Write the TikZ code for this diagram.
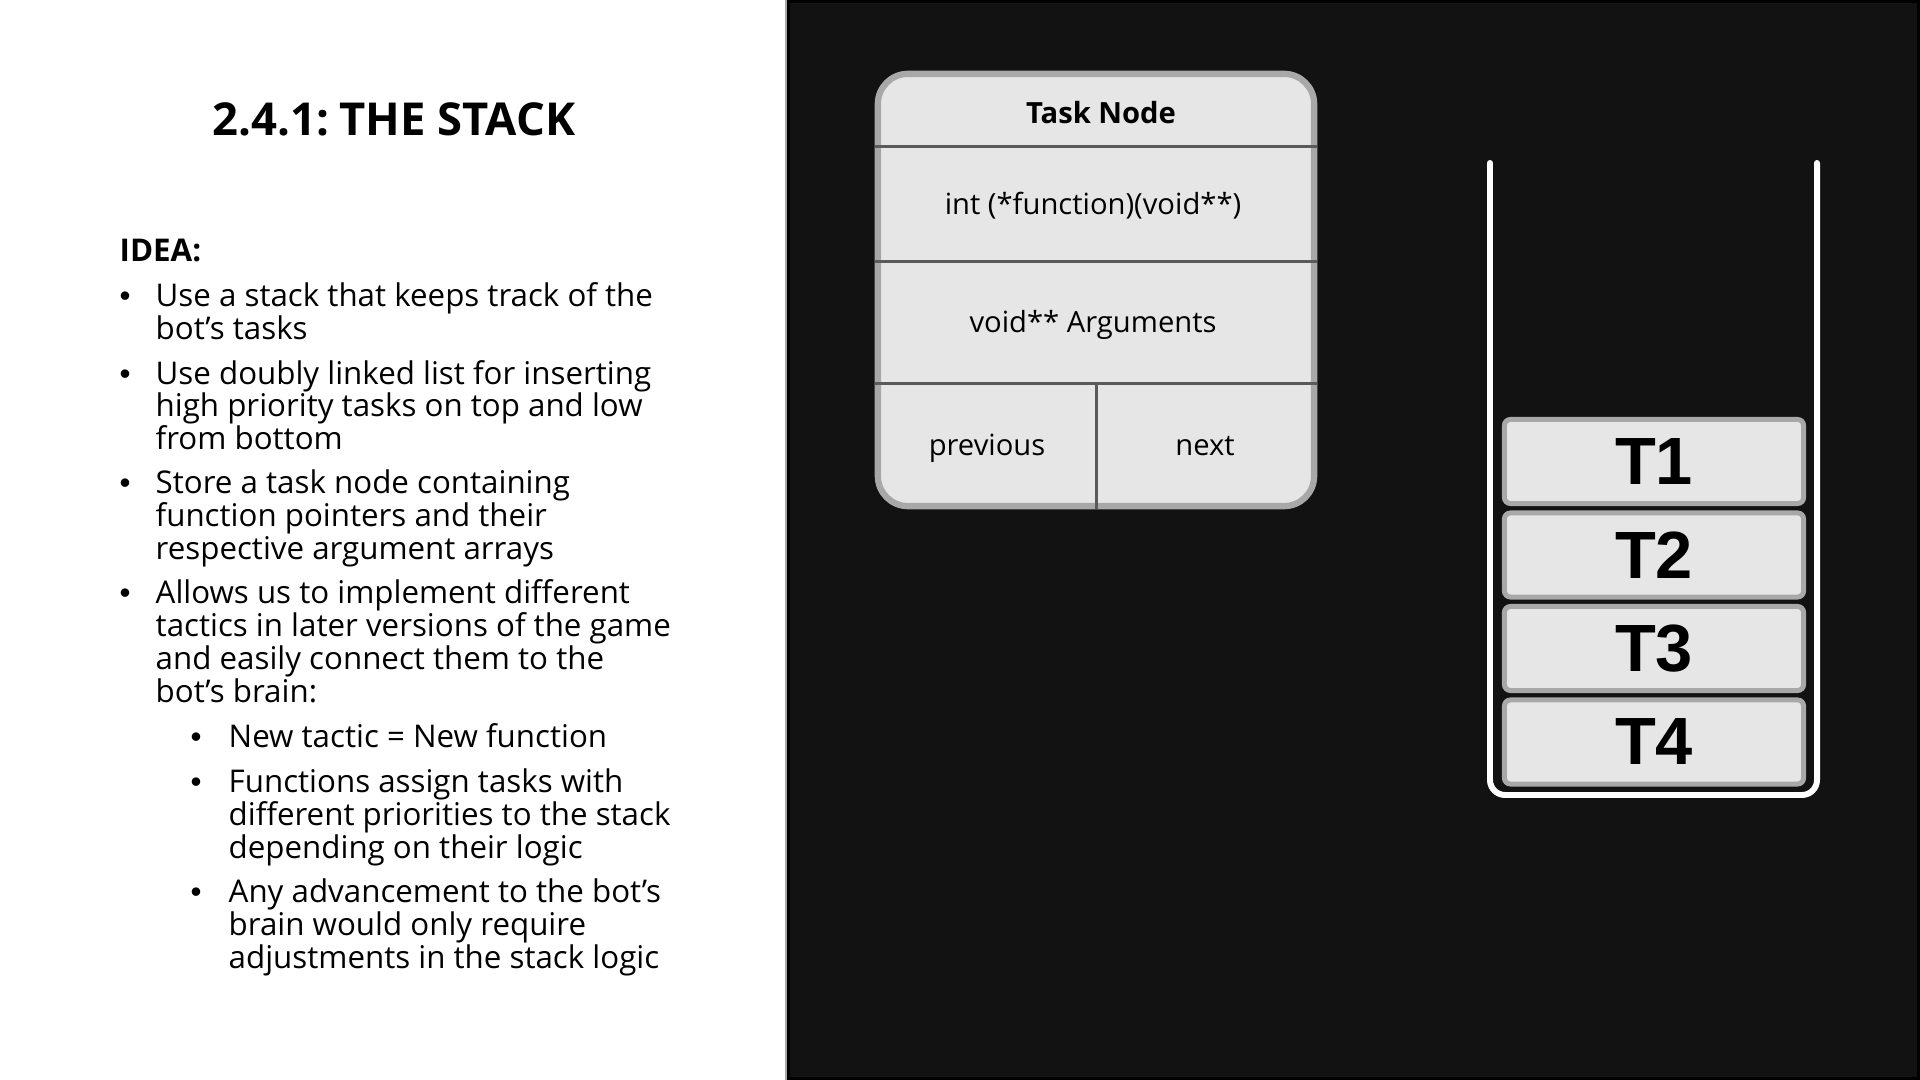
\documentclass[tikz,border=0pt]{standalone}
\usepackage{fontspec}
\setmainfont{Open Sans}
\newfontfamily\labelfont{Liberation Sans}
\definecolor{panelbg}{HTML}{121212}
\definecolor{cellfill}{HTML}{E6E6E6}
\definecolor{cellrim}{HTML}{A8A8A8}
\definecolor{rulegray}{HTML}{5A5A5A}
\begin{document}
\begin{tikzpicture}[x=0.01cm,y=-0.01cm,
  body/.style={font=\fontsize{8.9pt}{9.4pt}\selectfont, inner sep=0pt, anchor=base west},
  dot/.style={font=\labelfont\fontsize{8.9pt}{9.4pt}\selectfont, inner sep=0pt, anchor=base},
  cell/.style={font=\fontsize{8.3pt}{9pt}\selectfont, inner sep=0pt, anchor=base},
  divider/.style={draw=rulegray, line width=0.85pt},
  taskbox/.style={draw=cellrim, fill=cellfill, line width=1.42pt, rounded corners=0.06cm,
    minimum width=2.99cm, minimum height=0.84cm, inner sep=0pt,
    font=\labelfont\bfseries\fontsize{19pt}{19pt}\selectfont}
]
\useasboundingbox (0,0) rectangle (1920,1080);
% page halves
\fill[white] (0,0) rectangle (1920,1080);
\draw[gray!70, line width=0.3pt] (786,0) -- (786,1080);
\draw[fill=panelbg, draw=black, line width=0.85pt] (788.5,1.5) rectangle (1918.5,1078.5);

% left column: heading and notes
\node[font=\bfseries\fontsize{12.9pt}{14pt}\selectfont, inner sep=0pt, anchor=base] (title) at (394,136) {2.4.1:\hspace{-0.12em} THE STACK};
\node[body, font=\bfseries\fontsize{8.9pt}{9.4pt}\selectfont] (idea) at (119,262) {IDEA:};

\foreach \bx/\by [count=\i] in {125/306.5, 125/384.5, 125/493.5, 125/603.5, 196/747.5, 196/792.5, 196/902.5}
  \node[dot] (bullet\i) at (\bx,\by) {•};

\foreach \lx/\ly/\txt [count=\i] in {
  155/306.5/{Use a stack that keeps track of the},
  155/339.5/{bot’s tasks},
  155/384.5/{Use doubly linked list for inserting},
  155/416.5/{high priority tasks on top and low},
  155/449.5/{from bottom},
  155/493.5/{Store a task node containing},
  155/526.5/{function pointers and their},
  155/559.5/{respective argument arrays},
  155/603.5/{Allows us to implement different},
  155/636.5/{tactics in later versions of the game},
  155/669.5/{and easily connect them to the},
  155/702.5/{bot’s brain:},
  228/747.5/{New tactic = New function},
  228/792.5/{Functions assign tasks with},
  228/825.5/{different priorities to the stack},
  228/858.5/{depending on their logic},
  228/902.5/{Any advancement to the bot’s},
  228/935.5/{brain would only require},
  228/968.5/{adjustments in the stack logic}}
  \node[body] (line\i) at (\lx,\ly) {\txt};

% task node record
\node[draw=cellrim, fill=cellfill, line width=1.8pt, rounded corners=0.3cm,
  minimum width=4.36cm, minimum height=4.32cm, inner sep=0pt] (task) at (1096,290) {};
\draw[divider] (task.west |- 0,147) -- (task.east |- 0,147);
\draw[divider] (task.west |- 0,262) -- (task.east |- 0,262);
\draw[divider] (task.west |- 0,384) -- (task.east |- 0,384);
\draw[divider] (1096,384) -- (task.south -| 1096,0);
\node[cell, font=\bfseries\fontsize{8.3pt}{9pt}\selectfont] (head) at (1101,123.5) {Task Node};
\node[cell] (func) at (1093,215) {int (*function)(void**)};
\node[cell] (args) at (1093,333) {void** Arguments};
\node[cell] (prev) at (987,456) {previous};
\node[cell] (next) at (1205,456) {next};

% stack container and its tasks
\draw[white, line width=1.7pt, line cap=round, rounded corners=0.15cm]
  (1490,163) -- (1490,795) -- (1817,795) -- (1817,163);
\node[taskbox] (t1) at (1654,461.5) {T1};
\node[taskbox] (t2) at (1654,555) {T2};
\node[taskbox] (t3) at (1654,648.5) {T3};
\node[taskbox] (t4) at (1654,742) {T4};
\end{tikzpicture}
\end{document}
